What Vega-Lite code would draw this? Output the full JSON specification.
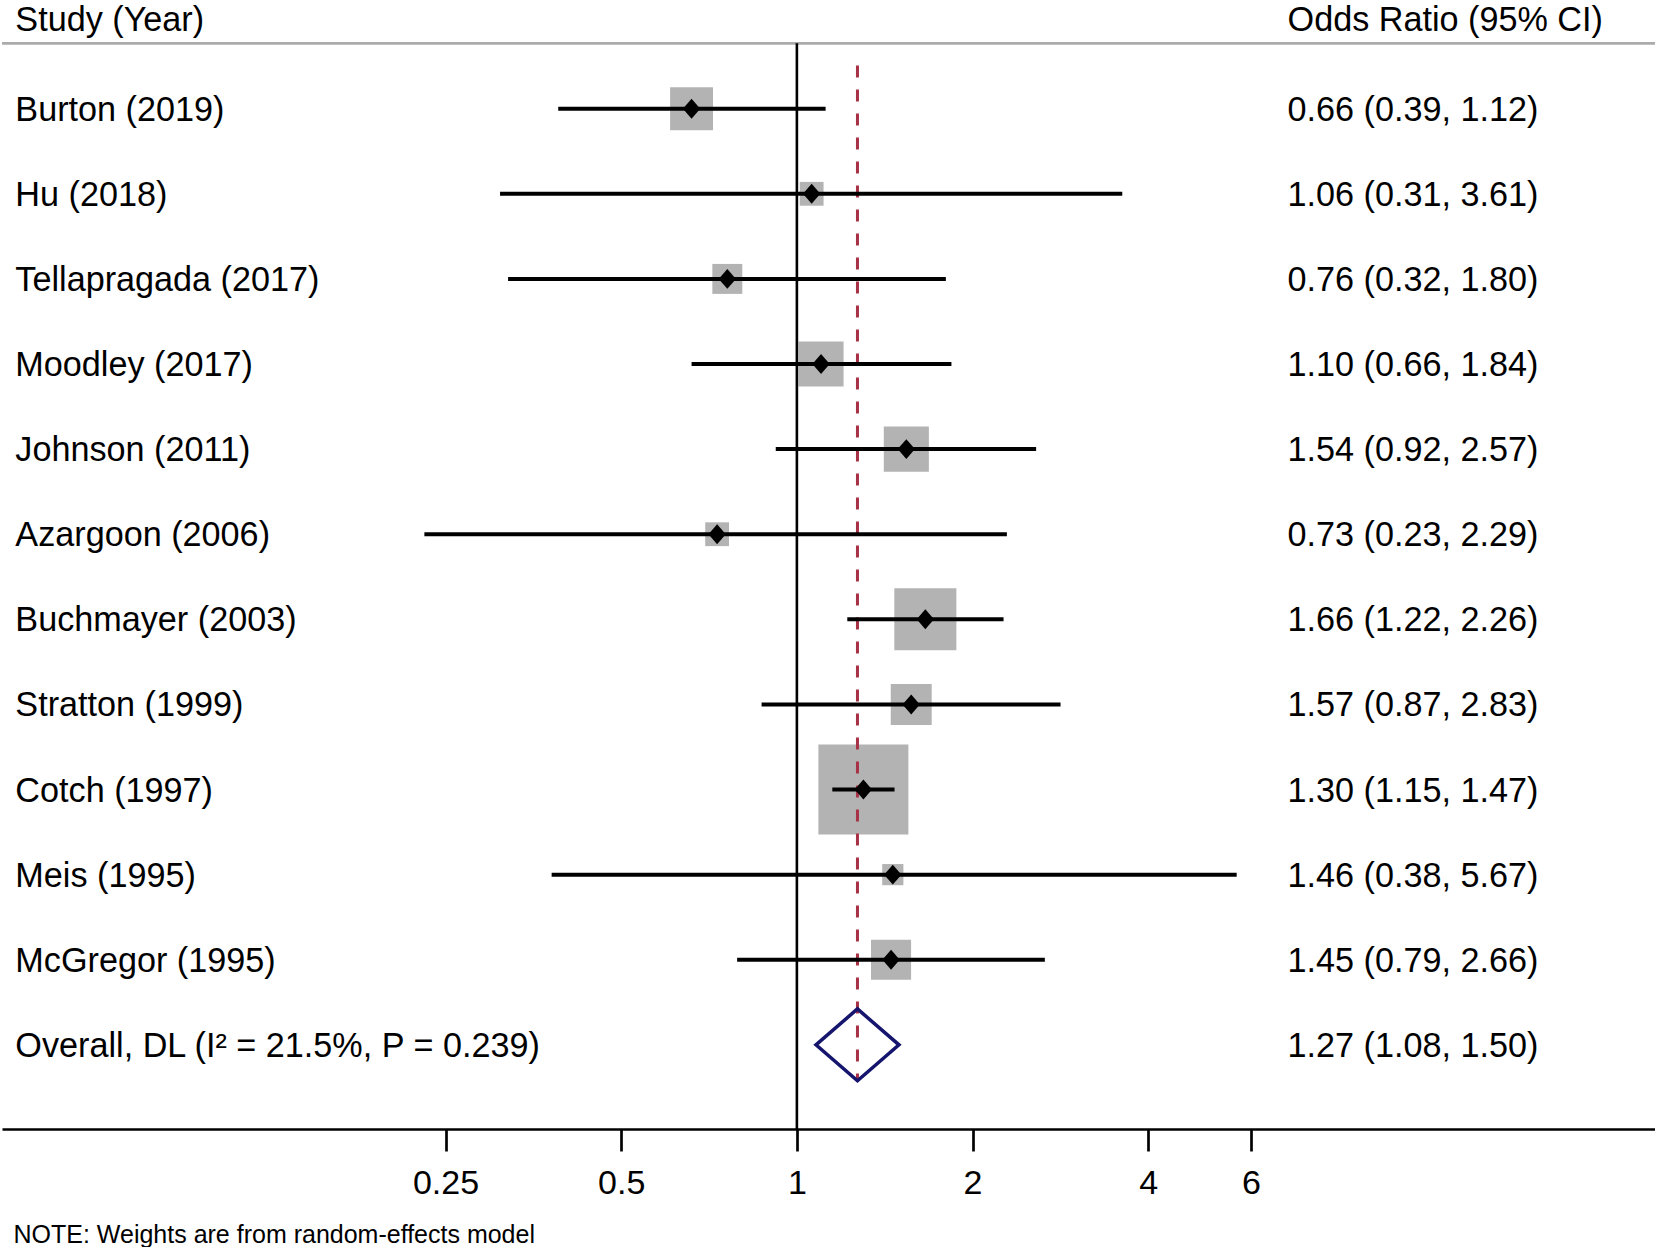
{
  "$schema": "https://vega.github.io/schema/vega-lite/v6.json",
  "width": 1655,
  "height": 1129,
  "padding": 0,
  "background": "white",
  "config": {
    "view": {"stroke": null},
    "font": "Liberation Sans",
    "axisX": {
      "domainColor": "black", "domainWidth": 2.7, "domainCap": "butt",
      "tickColor": "black", "tickWidth": 2.7, "tickSize": 22,
      "labelFont": "Liberation Sans", "labelFontSize": 34, "labelColor": "black", "labelPadding": 15, "labelFlush": false,
      "grid": false,
      "titleFont": "Liberation Sans", "titleFontSize": 25, "titleFontWeight": "normal", "titleColor": "black",
      "titleAnchor": "start", "titleAlign": "left", "titleX": 11, "titleY": 105, "titleBaseline": "middle"
    }
  },
  "data": {
    "values": [
      {"study": "Burton (2019)", "row": 1, "or": 0.66, "lo": 0.39, "hi": 1.12, "weight": 7.8, "ci_text": "0.66 (0.39, 1.12)", "type": "study"},
      {"study": "Hu (2018)", "row": 2, "or": 1.06, "lo": 0.31, "hi": 3.61, "weight": 2.4, "ci_text": "1.06 (0.31, 3.61)", "type": "study"},
      {"study": "Tellapragada (2017)", "row": 3, "or": 0.76, "lo": 0.32, "hi": 1.80, "weight": 3.8, "ci_text": "0.76 (0.32, 1.80)", "type": "study"},
      {"study": "Moodley (2017)", "row": 4, "or": 1.10, "lo": 0.66, "hi": 1.84, "weight": 8.6, "ci_text": "1.10 (0.66, 1.84)", "type": "study"},
      {"study": "Johnson (2011)", "row": 5, "or": 1.54, "lo": 0.92, "hi": 2.57, "weight": 8.6, "ci_text": "1.54 (0.92, 2.57)", "type": "study"},
      {"study": "Azargoon (2006)", "row": 6, "or": 0.73, "lo": 0.23, "hi": 2.29, "weight": 2.4, "ci_text": "0.73 (0.23, 2.29)", "type": "study"},
      {"study": "Buchmayer (2003)", "row": 7, "or": 1.66, "lo": 1.22, "hi": 2.26, "weight": 16.3, "ci_text": "1.66 (1.22, 2.26)", "type": "study"},
      {"study": "Stratton (1999)", "row": 8, "or": 1.57, "lo": 0.87, "hi": 2.83, "weight": 7.1, "ci_text": "1.57 (0.87, 2.83)", "type": "study"},
      {"study": "Cotch (1997)", "row": 9, "or": 1.30, "lo": 1.15, "hi": 1.47, "weight": 34.3, "ci_text": "1.30 (1.15, 1.47)", "type": "study"},
      {"study": "Meis (1995)", "row": 10, "or": 1.46, "lo": 0.38, "hi": 5.67, "weight": 1.9, "ci_text": "1.46 (0.38, 5.67)", "type": "study"},
      {"study": "McGregor (1995)", "row": 11, "or": 1.45, "lo": 0.79, "hi": 2.66, "weight": 6.8, "ci_text": "1.45 (0.79, 2.66)", "type": "study"},
      {"study": "Overall, DL (I² = 21.5%, P = 0.239)", "row": 12, "or": 1.27, "lo": 1.08, "hi": 1.50, "weight": null, "ci_text": "1.27 (1.08, 1.50)", "type": "overall"}
    ]
  },
  "layer": [
    {
      "data": {"values": [{}]},
      "mark": {"type": "rule", "color": "#ababab", "strokeWidth": 2.7},
      "encoding": {
        "y": {"datum": 0.2315, "type": "quantitative", "scale": {"domain": [-0.2773, 12.989], "reverse": true, "nice": false, "zero": false}, "axis": null}
      }
    },
    {
      "transform": [{"filter": "datum.type === 'study'"}],
      "mark": {"type": "point", "shape": "square", "filled": true, "color": "#b3b3b3", "opacity": 1, "strokeWidth": 0},
      "encoding": {
        "x": {"field": "or", "type": "quantitative", "title": "NOTE: Weights are from random-effects model", "scale": {"type": "log", "domain": [0.04345, 29.77], "nice": false, "zero": false}, "axis": {"values": [0.25, 0.5, 1, 2, 4, 6], "format": "~g"}},
        "y": {"field": "row", "type": "quantitative", "axis": null},
        "size": {"field": "weight", "type": "quantitative", "scale": {"type": "linear", "domain": [0, 100], "range": [0, 23620], "zero": true}, "legend": null}
      }
    },
    {
      "data": {"values": [{}]},
      "mark": {"type": "rule", "color": "black", "strokeWidth": 2.6},
      "encoding": {
        "x": {"datum": 1, "type": "quantitative"},
        "y": {"datum": 0.2315, "type": "quantitative", "axis": null},
        "y2": {"datum": 12.989}
      }
    },
    {
      "data": {"values": [{}]},
      "mark": {"type": "rule", "color": "#a83245", "strokeWidth": 3, "strokeDash": [12, 12]},
      "encoding": {
        "x": {"datum": 1.27, "type": "quantitative"},
        "y": {"datum": 0.491, "type": "quantitative", "axis": null},
        "y2": {"datum": 12.437}
      }
    },
    {
      "transform": [{"filter": "datum.type === 'study'"}],
      "mark": {"type": "rule", "color": "black", "strokeWidth": 4},
      "encoding": {
        "x": {"field": "lo", "type": "quantitative", "title": "NOTE: Weights are from random-effects model"},
        "x2": {"field": "hi"},
        "y": {"field": "row", "type": "quantitative", "axis": null}
      }
    },
    {
      "transform": [{"filter": "datum.type === 'study'"}],
      "mark": {"type": "point", "shape": "M-1,0L0,-1.15L1,0L0,1.15Z", "size": 300, "filled": true, "color": "black", "opacity": 1, "strokeWidth": 0},
      "encoding": {
        "x": {"field": "or", "type": "quantitative", "title": "NOTE: Weights are from random-effects model"},
        "y": {"field": "row", "type": "quantitative", "axis": null}
      }
    },
    {
      "transform": [{"filter": "datum.type === 'overall'"}],
      "mark": {"type": "point", "shape": "M-1,0L0,-0.865L1,0L0,0.865Z", "size": 6889, "filled": false, "stroke": "#15156e", "strokeWidth": 3.5, "opacity": 1},
      "encoding": {
        "x": {"field": "or", "type": "quantitative", "title": "NOTE: Weights are from random-effects model"},
        "y": {"field": "row", "type": "quantitative", "axis": null}
      }
    },
    {
      "mark": {"type": "text", "align": "left", "baseline": "middle", "dy": 2, "fontSize": 34.2, "color": "black", "font": "Liberation Sans"},
      "encoding": {
        "x": {"datum": 0.0458, "type": "quantitative"},
        "y": {"field": "row", "type": "quantitative", "axis": null},
        "text": {"field": "study"}
      }
    },
    {
      "mark": {"type": "text", "align": "left", "baseline": "middle", "dy": 2, "fontSize": 34.2, "color": "black", "font": "Liberation Sans"},
      "encoding": {
        "x": {"datum": 6.93, "type": "quantitative"},
        "y": {"field": "row", "type": "quantitative", "axis": null},
        "text": {"field": "ci_text"}
      }
    },
    {
      "data": {"values": [{"left": "Study (Year)", "right": "Odds Ratio (95% CI)"}]},
      "mark": {"type": "text", "align": "left", "baseline": "middle", "dy": 2, "fontSize": 34.2, "color": "black", "font": "Liberation Sans"},
      "encoding": {
        "x": {"datum": 0.0458, "type": "quantitative"},
        "y": {"datum": -0.055, "type": "quantitative", "axis": null},
        "text": {"field": "left"}
      }
    },
    {
      "data": {"values": [{"left": "Study (Year)", "right": "Odds Ratio (95% CI)"}]},
      "mark": {"type": "text", "align": "left", "baseline": "middle", "dy": 2, "fontSize": 34.2, "color": "black", "font": "Liberation Sans"},
      "encoding": {
        "x": {"datum": 6.93, "type": "quantitative"},
        "y": {"datum": -0.055, "type": "quantitative", "axis": null},
        "text": {"field": "right"}
      }
    }
  ]
}
